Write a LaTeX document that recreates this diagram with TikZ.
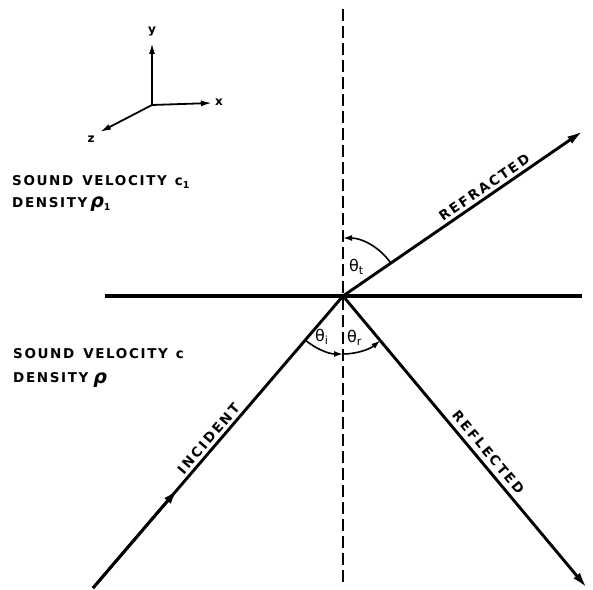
\documentclass[tikz,border=0pt]{standalone}
\usepackage{fontspec}
\setmainfont{DejaVu Sans}
\newfontfamily\labfont{DejaVu Sans}[LetterSpace=12]
\newfontfamily\rayfont{DejaVu Sans}[LetterSpace=16]
\usetikzlibrary{arrows.meta,calc}
\begin{document}
\begin{tikzpicture}[x=1pt,y=1pt,
  ray/.style={line width=2.9pt},
  raytip/.style={line width=2.9pt,-{Latex[length=16pt,width=8.5pt]}},
  arcarrow/.style={line width=1.6pt,-{Latex[length=9pt,width=6pt]}},
  axisarrow/.style={line width=1.8pt,-{Latex[length=11pt,width=6pt]}},
  region/.style={anchor=base west,inner sep=0pt,font=\labfont\bfseries\fontsize{13.5}{15}\selectfont},
  raylabel/.style={sloped,inner sep=1pt,font=\rayfont\bfseries\fontsize{13.5}{14}\selectfont},
  anglabel/.style={anchor=base west,inner sep=0pt,font=\fontsize{16}{17}\selectfont},
  axlabel/.style={inner sep=0pt,font=\bfseries\fontsize{12}{13}\selectfont}]
\useasboundingbox (0,0) rectangle (593,589);
% main geometry
\coordinate (O) at (343,293);
\coordinate (ntop) at (343,580);
\coordinate (nbot) at (343,3);
\coordinate (hl) at (105,293);
\coordinate (hr) at (582,293);
\coordinate (refr) at (583,458);
\coordinate (inc) at (93,1);
\coordinate (refl) at (587,1);
% normal and interface
\draw[line width=2pt,dash pattern=on 12pt off 5pt] (ntop) -- (nbot);
\draw[line width=3.2pt] (hl) -- (hr);
% rays
\draw[raytip] (O) -- (refr);
\draw[ray] (inc) -- (O);
\draw[raytip] (inc) -- ($(inc)!0.34!(O)$);
\draw[raytip] (O) -- (refl);
% ray labels
\path (O) -- (refr) node[raylabel,pos=0.61,above=3pt] (lrefr) {REFRACTED};
\path (inc) -- (O) node[raylabel,pos=0.49,above=3pt] (linc) {INCIDENT};
\path (O) -- (refl) node[raylabel,pos=0.56,above=5pt] (lrefl) {REFLECTED};
% angle arcs
\draw[arcarrow] ([shift={(34.5:58)}]O) arc[start angle=34.5,end angle=90,radius=58];
\draw[arcarrow] ([shift={(229.4:58)}]O) arc[start angle=229.4,end angle=270,radius=58];
\draw[arcarrow] ([shift={(270:58)}]O) arc[start angle=270,end angle=309.9,radius=58];
\node[anglabel] (tht) at (349,317) {θ\textsubscript{t}};
\node[anglabel] (thi) at (315,247) {θ\textsubscript{i}};
\node[anglabel] (thr) at (347,246) {θ\textsubscript{r}};
% region labels
\node[region] (sv1) at (12,403) {SOUND\hspace{9pt}VELOCITY\hspace{8pt}c\textsubscript{1}};
\node[region] (de1) at (12,381) {DENSITY\hspace{3pt}{\itshape\fontsize{19}{19}\selectfont ρ}\textsubscript{1}};
\node[region] (sv0) at (13,230) {SOUND\hspace{9pt}VELOCITY\hspace{8pt}c};
\node[region] (de0) at (13,206) {DENSITY\hspace{5pt}{\itshape\fontsize{19}{19}\selectfont ρ}};
% axes
\coordinate (ax0) at (152,484);
\coordinate (axy) at (152,546);
\coordinate (axx) at (212,486);
\coordinate (axz) at (100,457);
\draw[axisarrow] (ax0) -- (axy);
\draw[axisarrow] (ax0) -- (axx);
\draw[axisarrow] (ax0) -- (axz);
\node[axlabel] (ly) at (152,557) {y};
\node[axlabel] (lx) at (219,487) {x};
\node[axlabel] (lz) at (91,450) {z};
\end{tikzpicture}
\end{document}
